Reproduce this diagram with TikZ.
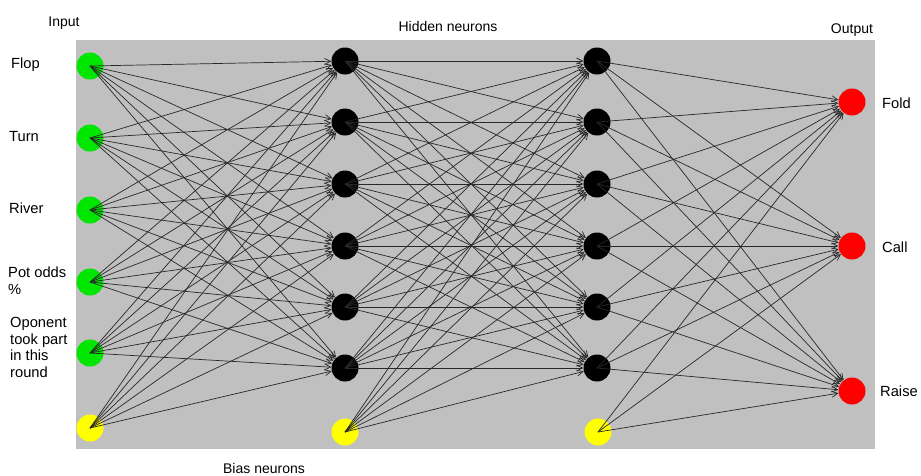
\documentclass[tikz,border=0pt]{standalone}
\usepackage{fontspec}
\setmainfont{Liberation Sans}
\usetikzlibrary{arrows.meta}
\definecolor{bg}{RGB}{192,192,192}
\definecolor{ingreen}{RGB}{0,230,0}
\definecolor{biasyellow}{RGB}{255,255,0}
\definecolor{outred}{RGB}{255,0,0}
\definecolor{edgecol}{RGB}{40,40,40}
\begin{document}
\begin{tikzpicture}[x=1pt,y=-1pt,
  neuron/.style={circle,inner sep=0pt,minimum size=27pt,draw=none},
  innode/.style={neuron,fill=ingreen},
  hidnode/.style={neuron,fill=black},
  outnode/.style={neuron,fill=outred},
  biasnode/.style={neuron,fill=biasyellow},
  lbl/.style={inner sep=0pt,font=\fontsize{14}{16.5}\selectfont},
  side/.style={inner sep=0pt,font=\fontsize{14.7}{16.6}\selectfont},
  conn/.style={draw=edgecol,line width=0.7pt,-{Straight Barb[length=6pt,width=6pt]}}
]
\useasboundingbox (0,0) rectangle (921,475);
\fill[bg] (76,40) rectangle (875,449);

% input layer
\node[innode] (i1) at (90,66) {};
\node[innode] (i2) at (90,138) {};
\node[innode] (i3) at (90,210) {};
\node[innode] (i4) at (90,282) {};
\node[innode] (i5) at (90,353) {};
\node[biasnode] (i6) at (90,428) {};

% hidden layer 1
\foreach \k/\y in {1/61,2/122,3/184,4/246,5/307,6/368}
  \node[hidnode] (h\k) at (345,\y) {};
\node[biasnode] (h7) at (345,432) {};

% hidden layer 2
\foreach \k/\y in {1/61,2/122,3/184,4/246,5/307,6/368}
  \node[hidnode] (g\k) at (597,\y) {};
\node[biasnode] (g7) at (598,432) {};

% output layer
\node[outnode] (o1) at (852,102) {};
\node[outnode] (o2) at (852,246) {};
\node[outnode] (o3) at (852,391) {};

% connections
\foreach \a in {1,...,6}
  \foreach \b in {1,...,6}
    \draw[conn] (i\a.center) -- (h\b);
\foreach \a in {1,...,7}
  \foreach \b in {1,...,6}
    \draw[conn] (h\a.center) -- (g\b);
\foreach \a in {1,...,7}
  \foreach \b in {1,2,3}
    \draw[conn] (g\a.center) -- (o\b);

% labels
\node[lbl,anchor=base] (tin) at (64,26) {Input};
\node[lbl,anchor=base] (thid) at (448,31) {Hidden neurons};
\node[lbl,anchor=base] (tout) at (852,33) {Output};
\node[lbl,anchor=base] (tbias) at (264,473) {Bias neurons};

\node[side,anchor=base west] (lflop) at (11,68) {Flop};
\node[side,anchor=base west] (lturn) at (9,141) {Turn};
\node[side,anchor=base west] (lriver) at (9,213) {River};
\node[side,anchor=north west,align=left] (lpot) at (8,267) {Pot odds\\\%};
\node[side,anchor=north west,align=left] (lopp) at (10,317) {Oponent\\took part\\in this\\round};

\node[side,anchor=base west] (lfold) at (882,108) {Fold};
\node[side,anchor=base west] (lcall) at (882,252) {Call};
\node[side,anchor=base west] (lraise) at (880,396) {Raise};
\end{tikzpicture}
\end{document}
